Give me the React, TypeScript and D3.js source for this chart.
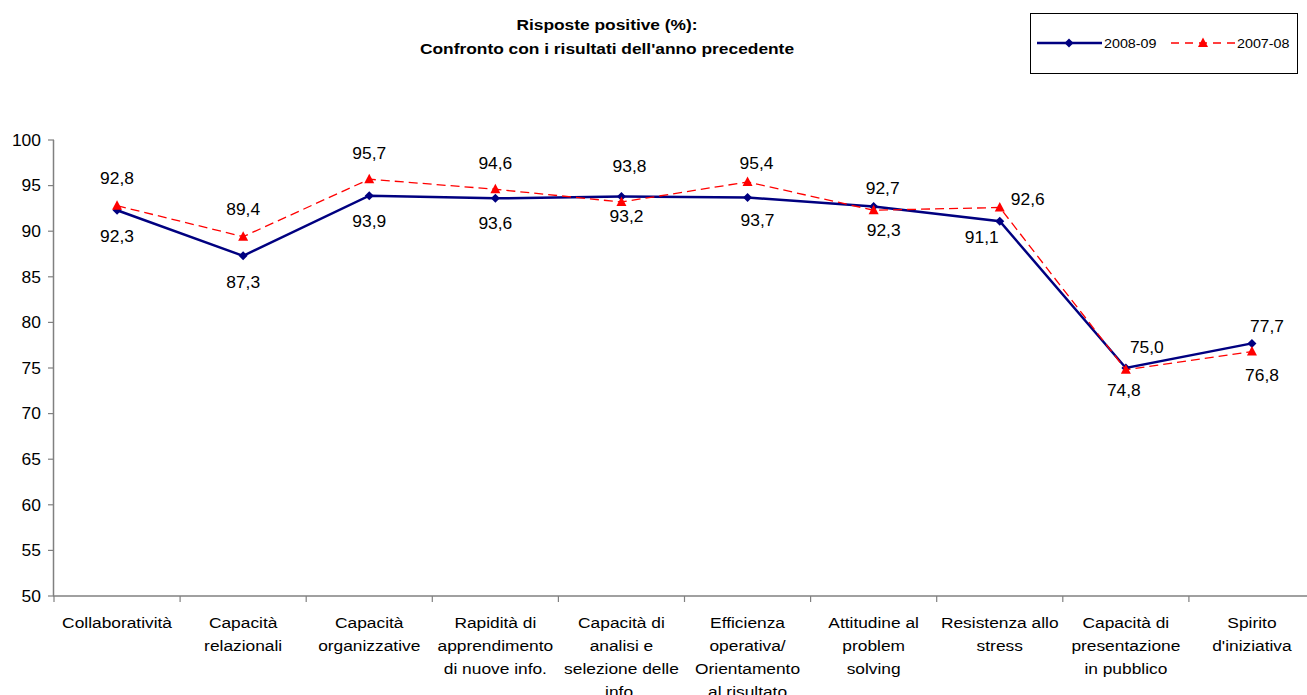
import React from "react";
import * as d3 from "d3";

const categories: string[][] = [
  ["Collaboratività"],
  ["Capacità", "relazionali"],
  ["Capacità", "organizzative"],
  ["Rapidità di", "apprendimento", "di nuove info."],
  ["Capacità di", "analisi e", "selezione delle", "info."],
  ["Efficienza", "operativa/", "Orientamento", "al risultato"],
  ["Attitudine al", "problem", "solving"],
  ["Resistenza allo", "stress"],
  ["Capacità di", "presentazione", "in pubblico"],
  ["Spirito", "d'iniziativa"],
];
const series2008 = [92.3, 87.3, 93.9, 93.6, 93.8, 93.7, 92.7, 91.1, 75.0, 77.7];
const series2007 = [92.8, 89.4, 95.7, 94.6, 93.2, 95.4, 92.3, 92.6, 74.8, 76.8];
const yTicks = [50, 55, 60, 65, 70, 75, 80, 85, 90, 95, 100];
const seriesNames = ["2008-09", "2007-08"];
const titleLines = ["Risposte positive (%):", "Confronto con i risultati dell'anno precedente"];

// label placement offsets (dx, dy) relative to each point
const labelOff2008: [number, number][] = [
  [0, 26], [0, 26], [0, 26], [0, 25], [8, -30], [10, 23], [9, -18], [-18, 16], [21, -21], [15, -17],
];
const labelOff2007: [number, number][] = [
  [0, -27], [0, -27], [0, -26], [0, -26], [5, 14], [9, -19], [10, 20], [28, -8], [-2, 20], [10, 24],
];

const W = 1307;
const H = 695;
const FONT = "'Liberation Sans', Arial, sans-serif";
const BLUE = "#000080";
const RED = "#FF0000";
const AXIS = "#808080";

const fmt = (v: number) => v.toFixed(1).replace(".", ",");

function ST({ x, y, size = 16, sx = 1.1, anchor = "middle", weight = "normal", fill = "#000", children }: any) {
  return (
    <text
      transform={`translate(${x},${y}) scale(${sx},1)`}
      fontSize={size}
      fontFamily={FONT}
      fontWeight={weight}
      textAnchor={anchor}
      fill={fill}
    >
      {children}
    </text>
  );
}

export default function App() {
  const x = d3
    .scaleBand<number>()
    .domain(d3.range(categories.length))
    .range([54, 1315])
    .paddingInner(0)
    .paddingOuter(0);
  const y = d3.scaleLinear().domain([50, 100]).range([596, 140]);
  const cx = (i: number) => (x(i) as number) + x.bandwidth() / 2;

  const line = d3
    .line<number>()
    .x((_, i) => cx(i))
    .y((d) => y(d));

  const diamond = (px: number, py: number, r = 4.5) =>
    `M${px},${py - r}L${px + r},${py}L${px},${py + r}L${px - r},${py}Z`;
  const tri = (px: number, py: number, r = 5) =>
    `M${px},${py - r * 1.1}L${px + r},${py + r * 0.8}L${px - r},${py + r * 0.8}Z`;

  const x0 = 54;
  const xEnd = 1315;

  return (
    <svg
      width={W}
      height={H}
      style={{ position: "absolute", left: 0, top: 0, background: "#fff" }}
    >
      <rect x={0} y={0} width={W} height={H} fill="#fff" />
      {/* title */}
      {titleLines.map((t, i) => (
        <ST key={i} x={607} y={30 + i * 24} size={15.5} sx={1.12} weight="bold">
          {t}
        </ST>
      ))}

      {/* legend */}
      <rect x={1030.5} y={13.5} width={267} height={60} fill="#fff" stroke="#000" strokeWidth={1} />
      <line x1={1037} x2={1102} y1={43} y2={43} stroke={BLUE} strokeWidth={2.5} />
      <path d={diamond(1069, 43)} fill={BLUE} />
      <ST x={1104} y={47.8} size={13} sx={1.1} anchor="start">
        {seriesNames[0]}
      </ST>
      <line x1={1171} x2={1236} y1={43} y2={43} stroke={RED} strokeWidth={1.3} strokeDasharray="8,6" />
      <path d={tri(1203, 43)} fill={RED} />
      <ST x={1237} y={47.8} size={13} sx={1.1} anchor="start">
        {seriesNames[1]}
      </ST>

      {/* y axis */}
      <line x1={x0 - 0.5} x2={x0 - 0.5} y1={y(100)} y2={y(50)} stroke={AXIS} strokeWidth={1.5} />
      {yTicks.map((t) => (
        <g key={t}>
          <line x1={x0 - 6} x2={x0} y1={y(t)} y2={y(t)} stroke={AXIS} strokeWidth={1.2} />
          <ST x={41} y={y(t) + 5.7} size={16} sx={1.09} anchor="end">
            {t}
          </ST>
        </g>
      ))}

      {/* x axis */}
      <line x1={x0 - 1} x2={xEnd} y1={y(50)} y2={y(50)} stroke={AXIS} strokeWidth={1.5} />
      {d3.range(categories.length + 1).map((i) => {
        const xx = i < categories.length ? (x(i) as number) : x0 + x.bandwidth() * i;
        return <line key={i} x1={xx} x2={xx} y1={y(50)} y2={y(50) + 6} stroke={AXIS} strokeWidth={1.2} />;
      })}
      {categories.map((lines, i) => (
        <g key={i}>
          {lines.map((l, j) => (
            <ST key={j} x={cx(i)} y={628 + j * 23} size={15.5} sx={1.12}>
              {l}
            </ST>
          ))}
        </g>
      ))}

      {/* series 2008-09 */}
      <path d={line(series2008) || ""} fill="none" stroke={BLUE} strokeWidth={2.5} />
      {series2008.map((v, i) => (
        <path key={i} d={diamond(cx(i), y(v))} fill={BLUE} />
      ))}

      {/* series 2007-08 */}
      <path d={line(series2007) || ""} fill="none" stroke={RED} strokeWidth={1.3} strokeDasharray="9,5" />
      {series2007.map((v, i) => (
        <path key={i} d={tri(cx(i), y(v))} fill={RED} />
      ))}

      {/* data labels */}
      {series2008.map((v, i) => (
        <ST key={"b" + i} x={cx(i) + labelOff2008[i][0]} y={y(v) + labelOff2008[i][1] + 5.7} size={16} sx={1.09}>
          {fmt(v)}
        </ST>
      ))}
      {series2007.map((v, i) => (
        <ST key={"r" + i} x={cx(i) + labelOff2007[i][0]} y={y(v) + labelOff2007[i][1] + 5.7} size={16} sx={1.09}>
          {fmt(v)}
        </ST>
      ))}
    </svg>
  );
}
